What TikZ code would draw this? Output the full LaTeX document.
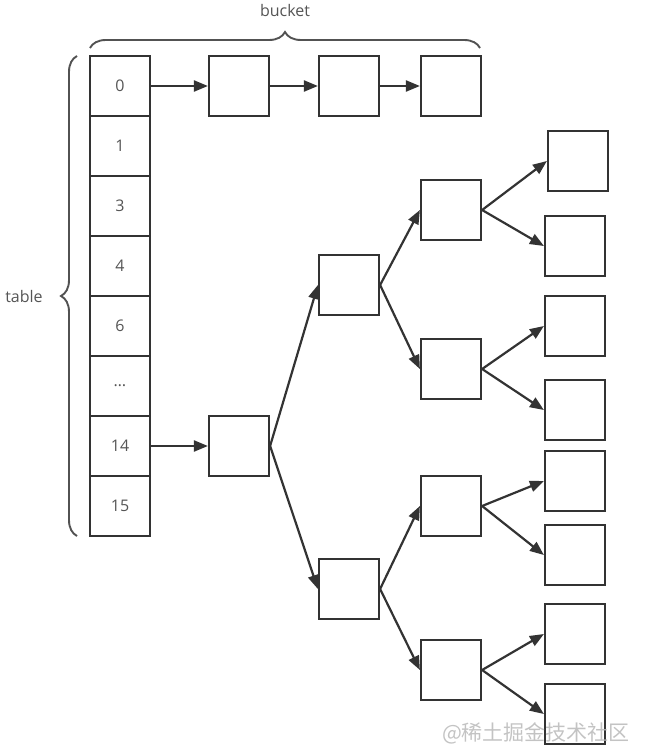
\documentclass[tikz,border=0pt]{standalone}
\usepackage{fontspec}
\setmainfont{Open Sans}
\newfontfamily\cjk{Noto Sans CJK SC}
\usetikzlibrary{arrows.meta,decorations.pathreplacing}
\definecolor{linegray}{HTML}{333333}
\definecolor{textgray}{HTML}{555555}
\tikzset{
  cell/.style={draw=linegray, line width=2.2pt, minimum size=60pt, inner sep=0pt,
    font=\fontsize{16}{19}\selectfont, text=textgray},
  link/.style={draw=linegray, line width=2.2pt, -{Triangle[length=14pt,width=11pt]}},
  bracket/.style={draw=linegray!85, line width=1.9pt, decorate,
    decoration={brace, amplitude=16pt}},
  tag/.style={font=\fontsize{16}{19}\selectfont, text=textgray}
}
\begin{document}
\begin{tikzpicture}[x=1pt,y=-1pt]
    \useasboundingbox (0,0) rectangle (645,746);

    % Table cells
    \foreach \lbl [count=\i from 0] in {0,1,3,4,6,{\dots},14,15}
        \node[cell] (t\i) at (120,{86+60*\i}) {\lbl};

    % Bucket chain of slot 0
    \node[cell] (b1) at (239,86) {};
    \node[cell] (b2) at (349,86) {};
    \node[cell] (b3) at (451,86) {};
    \draw[link] (t0.east) -- (b1.west);
    \draw[link] (b1.east) -- (b2.west);
    \draw[link] (b2.east) -- (b3.west);

    % Tree of slot 14
    \node[cell] (r) at (239,446) {};
    \node[cell] (m1) at (349,285) {};
    \node[cell] (m2) at (349,589) {};
    \node[cell] (n1) at (451,210) {};
    \node[cell] (n2) at (451,369) {};
    \node[cell] (n3) at (451,506) {};
    \node[cell] (n4) at (451,670) {};
    \node[cell] (l1) at (578,161) {};
    \node[cell] (l2) at (575,246) {};
    \node[cell] (l3) at (575,326) {};
    \node[cell] (l4) at (575,410) {};
    \node[cell] (l5) at (575,481) {};
    \node[cell] (l6) at (575,555) {};
    \node[cell] (l7) at (575,634) {};
    \node[cell] (l8) at (575,714) {};

    \draw[link] (t6.east) -- (r.west);
    \foreach \a/\b in {r/m1,r/m2,m1/n1,m1/n2,m2/n3,m2/n4,
                       n1/l1,n1/l2,n2/l3,n2/l4,n3/l5,n3/l6,n4/l7,n4/l8}
        \draw[link] (\a.east) -- (\b.west);

    % Braces and their labels
    \draw[bracket] (90,48) -- (480,48);
    \draw[bracket] (77,536) -- (77,56);
    \node[tag] (bucketlbl) at (285,11) {bucket};
    \node[tag] (tablelbl) at (24,296) {table};

    % Watermark
    \node[font=\cjk\fontsize{21}{22}\selectfont, text=gray!55, opacity=0.85]
        (mark) at (536,733) {@稀土掘金技术社区};
\end{tikzpicture}
\end{document}
